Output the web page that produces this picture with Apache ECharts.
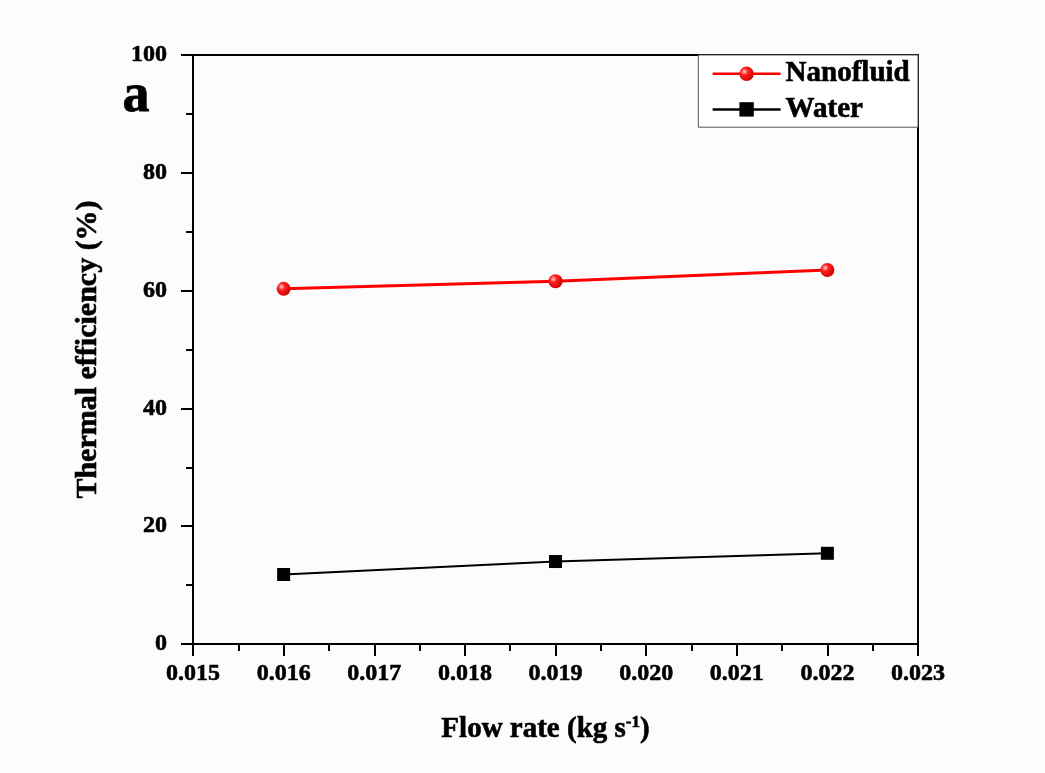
<!DOCTYPE html>
<html><head><meta charset="utf-8">
<script src="https://cdn.jsdelivr.net/npm/echarts@6/dist/echarts.min.js"></script>
<style>html,body{margin:0;padding:0;background:#fff}#c{width:1045px;height:773px}</style>
</head><body><div id="c"></div>
<script>
const flowRates = [0.016, 0.019, 0.022];
const nanofluid = [60.3, 61.6, 63.5];
const water = [11.8, 14.0, 15.4];
const seriesNames = ['Nanofluid', 'Water'];

const font = '"Liberation Serif", "Times New Roman", serif';
const heavy = {textBorderColor: '#000', textBorderWidth: 0.6};
const chart = echarts.init(document.getElementById('c'));
chart.setOption({
  backgroundColor: '#fcfcfc',
  animation: false,
  grid: {left: 193, right: 127, top: 55, bottom: 129, show: true, borderColor: '#000', borderWidth: 2, backgroundColor: 'transparent'},
  graphic: [{type: 'text', left: 122, top: 70, style: {text: 'a', font: 'bold 54px ' + font, fill: '#000', stroke: '#000', lineWidth: 0.8}}],
  legend: {
    orient: 'vertical', right: 127, top: 55, itemWidth: 68, itemHeight: 18, itemGap: 6,
    padding: [4, 8, 3, 13], borderColor: '#555', borderWidth: 1, backgroundColor: '#fff',
    lineStyle: {width: 2.5},
    textStyle: Object.assign({fontFamily: font, fontWeight: 'bold', fontSize: 29, color: '#000'}, heavy),
    data: seriesNames
  },
  xAxis: {
    type: 'value', min: 0.015, max: 0.023, interval: 0.001,
    name: 'Flow rate (kg s{sup|-1})', nameLocation: 'middle', nameGap: 70,
    nameTextStyle: Object.assign({fontFamily: font, fontWeight: 'bold', fontSize: 29, color: '#000', padding: [0, 20, 0, 0],
      rich: {sup: Object.assign({fontFamily: font, fontWeight: 'bold', fontSize: 17, verticalAlign: 'top', padding: [0,0,14,0], color: '#000'}, heavy)}}, heavy),
    axisLine: {lineStyle: {color: '#000', width: 2}},
    axisTick: {inside: false, length: 12, lineStyle: {color: '#000', width: 2}},
    minorTick: {show: true, splitNumber: 2, length: 7, lineStyle: {color: '#000', width: 2}},
    splitLine: {show: false},
    axisLabel: Object.assign({fontFamily: font, fontWeight: 'bold', fontSize: 24, color: '#000', margin: 18, formatter: v => v.toFixed(3)}, heavy)
  },
  yAxis: {
    type: 'value', min: 0, max: 100, interval: 20,
    name: 'Thermal efficiency (%)', nameLocation: 'middle', nameGap: 90,
    nameTextStyle: Object.assign({fontFamily: font, fontWeight: 'bold', fontSize: 30, color: '#000'}, heavy),
    axisLine: {lineStyle: {color: '#000', width: 2}},
    axisTick: {inside: false, length: 12, lineStyle: {color: '#000', width: 2}},
    minorTick: {show: true, splitNumber: 2, length: 7, lineStyle: {color: '#000', width: 2}},
    splitLine: {show: false},
    axisLabel: Object.assign({fontFamily: font, fontWeight: 'bold', fontSize: 24, color: '#000', margin: 26}, heavy)
  },
  series: [
    {name: seriesNames[0], type: 'line', data: flowRates.map((x, i) => [x, nanofluid[i]]),
     symbol: 'circle', symbolSize: 14, lineStyle: {color: '#ff0000', width: 3},
     itemStyle: {color: {type: 'radial', x: 0.35, y: 0.35, r: 0.7, colorStops: [{offset: 0, color: '#ffd0d0'}, {offset: 0.35, color: '#ff2020'}, {offset: 1, color: '#cc0000'}]}, borderWidth: 0}},
    {name: seriesNames[1], type: 'line', data: flowRates.map((x, i) => [x, water[i]]),
     symbol: 'rect', symbolSize: 13, lineStyle: {color: '#000', width: 2},
     itemStyle: {color: '#000'}}
  ]
});
</script></body></html>
